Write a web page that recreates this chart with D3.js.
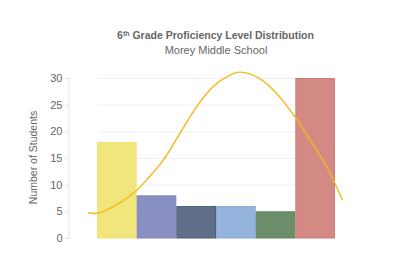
<!DOCTYPE html>
<html>
<head>
<meta charset="utf-8">
<script src="https://cdn.jsdelivr.net/npm/d3@7"></script>
<style>
  body { margin: 0; background: #fff; font-family: "Liberation Sans", Arial, sans-serif; }
</style>
</head>
<body>
<div id="chart-area"></div>
<script>
var levels = ["Level 1", "Level 2", "Level 3", "Level 4", "Level 5", "Level 6"];
var students = [18, 8, 6, 6, 5, 30];
var fills = ["#f0e67b", "#8a8fc2", "#5e6f87", "#95b4dd", "#6b8d6a", "#d48a84"];
var strokes = ["#efe47a", "#7f84bd", "#4f5f78", "#88a9d8", "#62835f", "#cc7c74"];
var y_ticks = [0, 5, 10, 15, 20, 25, 30];
// curve, x in bar units
var curve_x = [-0.22, 0, 0.41, 0.96, 1.25, 1.67, 2.09, 2.51, 2.93, 3.27, 3.6, 4.1, 4.53, 4.99, 5.37, 5.79, 6.19];
var curve_y = [4.74, 4.63, 5.87, 8.68, 10.9, 14.6, 19.6, 24.6, 28.4, 30.2, 31.1, 29.9, 27.1, 22.7, 18.4, 13.4, 7.1];

var W = 394, H = 266;
var svg = d3.select("#chart-area").append("svg")
    .attr("width", W)
    .attr("height", H);

var xScale = d3.scaleLinear()
    .domain([0, levels.length])
    .range([97, 335]);
var yScale = d3.scaleLinear()
    .domain([0, 30])
    .range([238, 78]);

// gridlines
svg.append("g")
    .selectAll("line")
    .data(y_ticks.filter(function (d) { return d > 0; }))
    .enter()
    .append("line")
    .attr("x1", xScale(0))
    .attr("x2", xScale(levels.length))
    .attr("y1", function (d) { return yScale(d) + 0.5; })
    .attr("y2", function (d) { return yScale(d) + 0.5; })
    .attr("stroke", "#f0f0f0")
    .attr("stroke-width", 1);

// y axis
var yAxis = svg.append("g")
    .attr("transform", "translate(68.5,0)")
    .call(d3.axisLeft(yScale).tickValues(y_ticks).tickSize(3).tickPadding(3));
yAxis.select(".domain").attr("stroke", "#e6e6e6");
yAxis.selectAll(".tick line").attr("stroke", "#dcdcdc");
yAxis.selectAll(".tick text")
    .attr("fill", "#666")
    .style("font-size", "11px")
    .style("font-family", "Liberation Sans, Arial, sans-serif");

// bars
svg.selectAll(".bar")
    .data(students)
    .enter()
    .append("rect")
    .attr("class", "bar")
    .attr("x", function (d, i) { return xScale(i) + 0.5; })
    .attr("y", function (d) { return yScale(d) + 0.5; })
    .attr("width", function (d, i) { return xScale(i + 1) - xScale(i) - 1; })
    .attr("height", function (d) { return yScale(0) - yScale(d) - 0.5; })
    .attr("fill", function (d, i) { return fills[i]; })
    .attr("stroke", function (d, i) { return strokes[i]; })
    .attr("stroke-width", 1);

// distribution curve
var line = d3.line()
    .x(function (d) { return xScale(d[0]); })
    .y(function (d) { return yScale(d[1]); })
    .curve(d3.curveCatmullRom);
svg.append("path")
    .datum(d3.zip(curve_x, curve_y))
    .attr("d", line)
    .attr("fill", "none")
    .attr("stroke", "#f6b816")
    .attr("stroke-width", 1.4);

// titles
var title = svg.append("text")
    .attr("x", 215.5)
    .attr("y", 39)
    .attr("text-anchor", "middle")
    .attr("fill", "#666")
    .style("font-size", "10.5px")
    .style("font-weight", "bold");
title.append("tspan").text("6");
title.append("tspan").attr("dy", "-3").style("font-size", "7px").text("th");
title.append("tspan").attr("dy", "3").text(" Grade Proficiency Level Distribution");

svg.append("text")
    .attr("x", 216)
    .attr("y", 53.5)
    .attr("text-anchor", "middle")
    .attr("fill", "#666")
    .style("font-size", "11px")
    .text("Morey Middle School");

svg.append("text")
    .attr("transform", "rotate(-90)")
    .attr("x", -157.5)
    .attr("y", 37)
    .attr("text-anchor", "middle")
    .attr("fill", "#666")
    .style("font-size", "10.5px")
    .text("Number of Students");
</script>
</body>
</html>
